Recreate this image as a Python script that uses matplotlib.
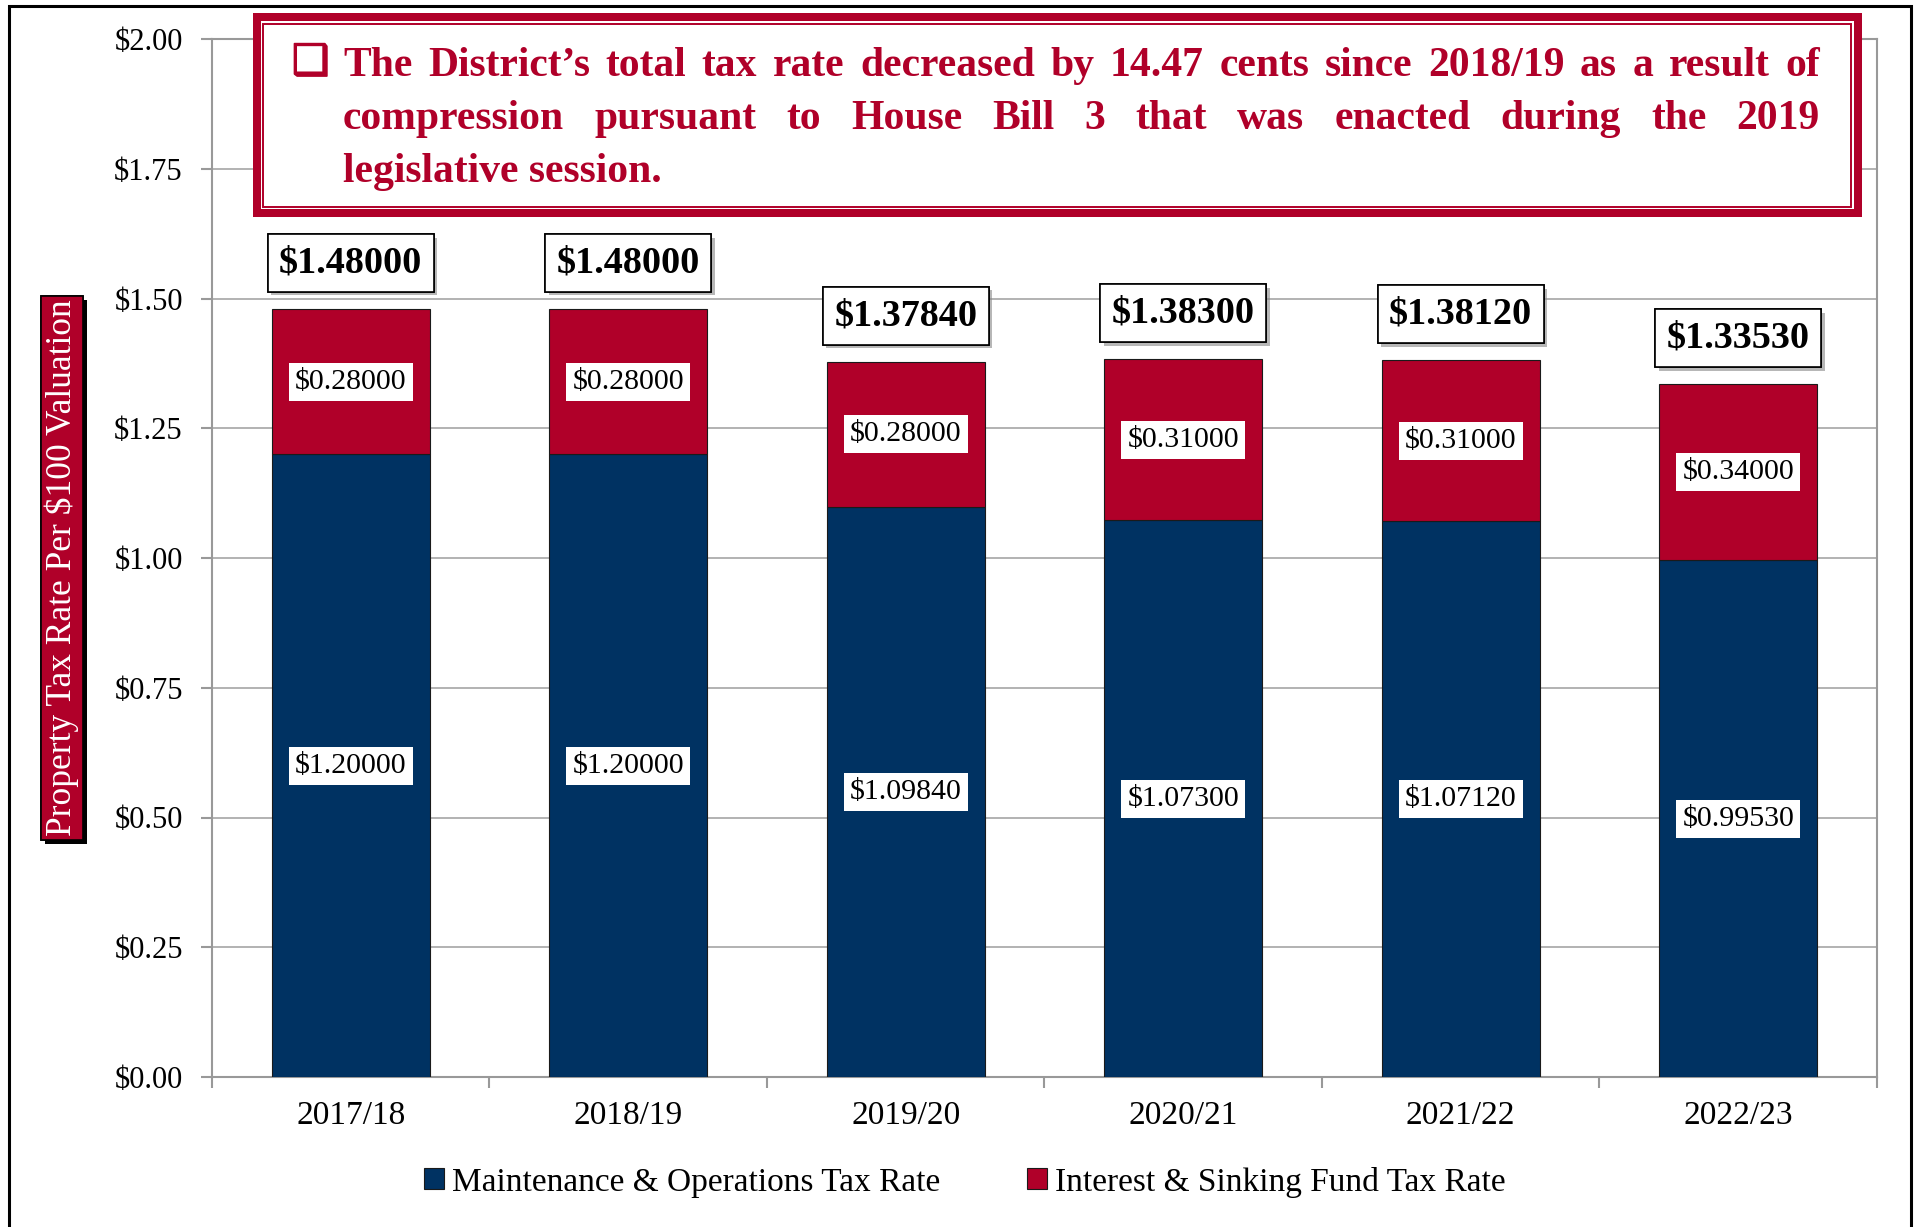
import matplotlib.pyplot as plt
import matplotlib.patches as mpatches
import matplotlib.patheffects as pe
import numpy as np

years = ['2017/18', '2018/19', '2019/20', '2020/21', '2021/22', '2022/23']
mo_rate = [1.20000, 1.20000, 1.09840, 1.07300, 1.07120, 0.99530]
is_rate = [0.28000, 0.28000, 0.28000, 0.31000, 0.31000, 0.34000]
totals = [1.48000, 1.48000, 1.37840, 1.38300, 1.38120, 1.33530]
y_ticks = [0.0, 0.25, 0.5, 0.75, 1.0, 1.25, 1.5, 1.75, 2.0]

BLUE = '#003262'
RED = '#B00029'
GRID = '#ADADAD'

callout_lines = [
    "The District\u2019s total tax rate decreased by 14.47 cents since 2018/19 as a result of",
    "compression pursuant to House Bill 3 that was enacted during the 2019",
    "legislative session.",
]

plt.rcParams['font.family'] = ['Liberation Serif', 'DejaVu Sans']

W, H = 1915, 1227
fig = plt.figure(figsize=(W / 100, H / 100), dpi=100)


def fx(px):
    return px / W


def fy(py):
    return 1 - py / H


ax = fig.add_axes([fx(212), fy(1077), fx(1877) - fx(212), fy(39) - fy(1077)])

x = np.arange(len(years))
ax.bar(x, mo_rate, width=0.57, color=BLUE, edgecolor='#1a1a1a', linewidth=0.8,
       label='Maintenance & Operations Tax Rate', zorder=3)
ax.bar(x, is_rate, width=0.57, bottom=mo_rate, color=RED, edgecolor='#1a1a1a',
       linewidth=0.8, label='Interest & Sinking Fund Tax Rate', zorder=3)

seg_box = dict(boxstyle='square,pad=0.2', facecolor='white', edgecolor='none')
for i in range(len(years)):
    ax.text(x[i], mo_rate[i] / 2, f'${mo_rate[i]:.5f}', ha='center', va='center',
            fontsize=21.5, bbox=seg_box, zorder=4)
    ax.text(x[i], mo_rate[i] + is_rate[i] / 2, f'${is_rate[i]:.5f}', ha='center',
            va='center', fontsize=21.5, bbox=seg_box, zorder=4)
    t = ax.annotate(f'${totals[i]:.5f}', (x[i], totals[i]), xytext=(0, 33),
                    textcoords='offset points', ha='center', va='center',
                    fontsize=27.5, fontweight='bold', zorder=4,
                    bbox=dict(boxstyle='square,pad=0.3', facecolor='white',
                              edgecolor='black', linewidth=1.2))
    t.get_bbox_patch().set_path_effects([
        pe.withSimplePatchShadow(offset=(2.5, -2.5), shadow_rgbFace='#888888', alpha=0.6),
        pe.Normal()])

ax.set_ylim(0, 2.0)
ax.set_xlim(-0.5, len(years) - 0.5)
ax.set_yticks(y_ticks)
ax.set_yticklabels([f'${v:.2f}' for v in y_ticks], fontsize=22)
ax.set_xticks(x)
ax.set_xticklabels(years, fontsize=24)
ax.set_xticks(np.arange(-0.5, len(years), 1.0), minor=True)
ax.tick_params(axis='x', which='major', length=0, pad=17)
ax.tick_params(axis='x', which='minor', length=8, width=1.5, color='#999999')
ax.tick_params(axis='y', length=8, width=1.5, color='#999999', pad=13)
ax.yaxis.grid(True, color=GRID, linewidth=1.3, zorder=0)
ax.set_axisbelow(True)
for s in ax.spines.values():
    s.set_color('#999999')
    s.set_linewidth(1.5)

# y-axis label in red box
yl = fig.text(fx(62), fy(568), 'Property Tax Rate Per $100 Valuation', rotation=90,
              ha='center', va='center', color='white', fontsize=25.5,
              bbox=dict(boxstyle='square,pad=0.1', facecolor=RED, edgecolor='black',
                        linewidth=1.2))
yl.get_bbox_patch().set_path_effects([
    pe.withSimplePatchShadow(offset=(3, -3), shadow_rgbFace='black', alpha=1.0),
    pe.Normal()])

# legend
fig.legend(loc='center', bbox_to_anchor=(fx(965), fy(1182)), ncol=2, frameon=False,
           fontsize=24, handlelength=0.6, handleheight=0.6, handletextpad=0.25,
           columnspacing=2.6)

# outer border
fig.patches.append(mpatches.Rectangle((fx(9), fy(1240)), fx(1911) - fx(9), fy(6) - fy(1240),
                                      transform=fig.transFigure, fill=False,
                                      edgecolor='black', linewidth=2.2, zorder=10))

# callout box
bx0, by0, bx1, by1 = 253, 13, 1862, 217
fig.patches.append(mpatches.Rectangle((fx(bx0), fy(by1)), fx(bx1) - fx(bx0), fy(by0) - fy(by1),
                                      transform=fig.transFigure, facecolor=RED,
                                      edgecolor='none', zorder=5))
fig.patches.append(mpatches.Rectangle((fx(bx0 + 8), fy(by1 - 8)), fx(bx1 - 8) - fx(bx0 + 8),
                                      fy(by0 + 8) - fy(by1 - 8), transform=fig.transFigure,
                                      facecolor='white', edgecolor='none', zorder=6))
fig.patches.append(mpatches.Rectangle((fx(bx0 + 10.5), fy(by1 - 10.5)),
                                      fx(bx1 - 10.5) - fx(bx0 + 10.5),
                                      fy(by0 + 10.5) - fy(by1 - 10.5), transform=fig.transFigure,
                                      facecolor='none', edgecolor=RED, linewidth=1.4, zorder=7))

# bullet
bl = fig.text(fx(292), fy(62), '\u2751', fontsize=30, color=RED, ha='left', va='center',
              family=['DejaVu Sans'], zorder=8)
bl.set_path_effects([pe.Stroke(linewidth=1.2, foreground=RED), pe.Normal()])

# justified callout text
tx0, tx1 = 343, 1820
baselines = [76, 129, 182]
renderer = fig.canvas.get_renderer()
probe = fig.text(0, 0, callout_lines[0], fontsize=30, fontweight='bold')
nat = probe.get_window_extent(renderer).width
probe.remove()
fs = min(30, 30 * (tx1 - tx0) / nat * 0.985)

for li, line in enumerate(callout_lines):
    yb = fy(baselines[li])
    if li == len(callout_lines) - 1:
        fig.text(fx(tx0), yb, line, fontsize=fs, fontweight='bold', color=RED,
                 ha='left', va='baseline', zorder=8)
        continue
    words = line.split(' ')
    texts = [fig.text(0, yb, w, fontsize=fs, fontweight='bold', color=RED,
                      ha='left', va='baseline', zorder=8) for w in words]
    widths = [t.get_window_extent(renderer).width for t in texts]
    gap = ((tx1 - tx0) - sum(widths)) / (len(words) - 1)
    cur = tx0
    for t, w in zip(texts, widths):
        t.set_x(fx(cur))
        cur += w + gap

fig.savefig('out.png', dpi=100)
